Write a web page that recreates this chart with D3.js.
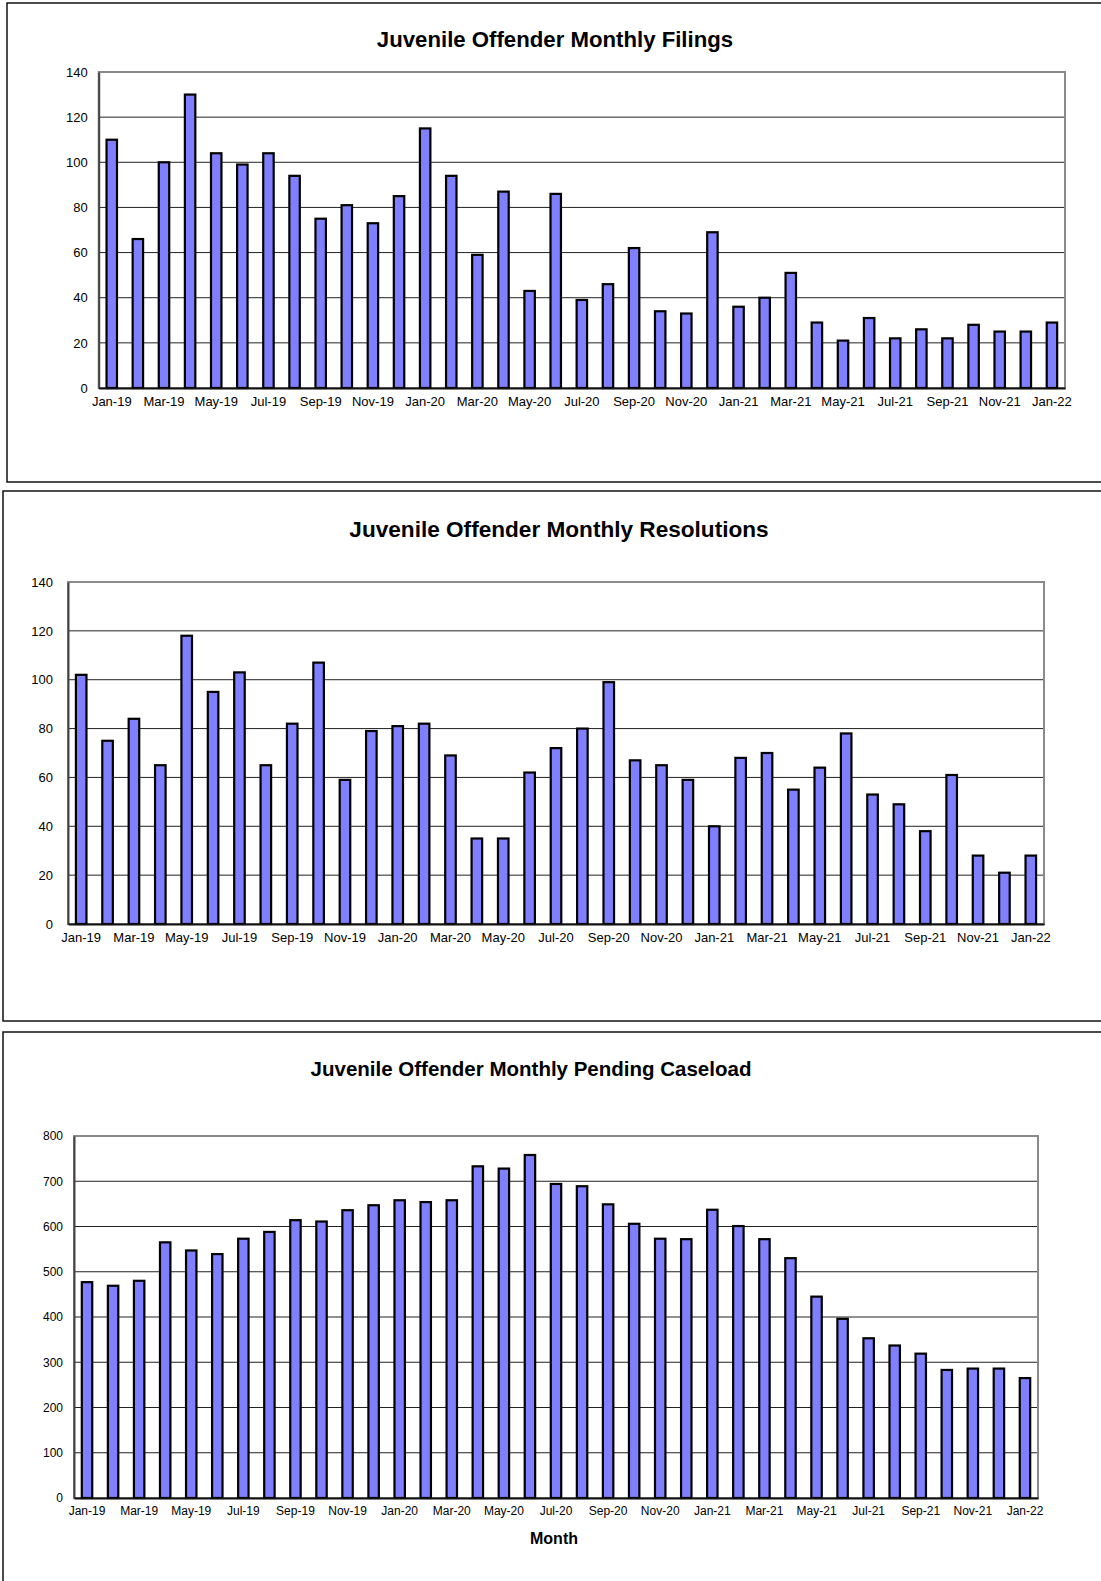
<!DOCTYPE html>
<html>
<head>
<meta charset="utf-8">
<script src="https://cdn.jsdelivr.net/npm/d3@7"></script>
<style>
  body { margin: 0; background: #fff; }
  svg { display: block; font-family: "Liberation Sans", Arial, sans-serif; }
</style>
</head>
<body>
<div id="svg-container"></div>
<script>
var months = ["Jan-19","Feb-19","Mar-19","Apr-19","May-19","Jun-19","Jul-19","Aug-19","Sep-19","Oct-19","Nov-19","Dec-19",
              "Jan-20","Feb-20","Mar-20","Apr-20","May-20","Jun-20","Jul-20","Aug-20","Sep-20","Oct-20","Nov-20","Dec-20",
              "Jan-21","Feb-21","Mar-21","Apr-21","May-21","Jun-21","Jul-21","Aug-21","Sep-21","Oct-21","Nov-21","Dec-21",
              "Jan-22"];

var filings = [110, 66, 100, 130, 104, 99, 104, 94, 75, 81, 73, 85,
               115, 94, 59, 87, 43, 86, 39, 46, 62, 34, 33, 69,
               36, 40, 51, 29, 21, 31, 22, 26, 22, 28, 25, 25,
               29];

var resolutions = [102, 75, 84, 65, 118, 95, 103, 65, 82, 107, 59, 79,
                   81, 82, 69, 35, 35, 62, 72, 80, 99, 67, 65, 59,
                   40, 68, 70, 55, 64, 78, 53, 49, 38, 61, 28, 21,
                   28];

var pending = [477, 469, 480, 565, 547, 539, 573, 588, 614, 611, 636, 647,
               658, 654, 658, 733, 728, 758, 694, 689, 649, 606, 573, 572,
               637, 601, 572, 530, 445, 396, 353, 337, 319, 283, 286, 286,
               265];

// every other month gets a label
var xTicks = months.filter(function(d, i) { return i % 2 === 0; });

var ticksSmall = d3.range(0, 141, 20);
var ticksBig = d3.range(0, 801, 100);

var width = 1101, height = 1581;

var svg = d3.select("#svg-container")
            .append("svg")
            .attr("width", width)
            .attr("height", height);

function drawPanel(p) {
  var g = svg.append("g");

  // outer frame of the panel
  g.append("rect")
   .attr("x", p.box[0]).attr("y", p.box[1])
   .attr("width", p.box[2] - p.box[0]).attr("height", p.box[3] - p.box[1])
   .attr("fill", "none")
   .attr("stroke", "#111")
   .attr("stroke-width", 1.5);

  g.append("text")
   .attr("x", p.titleX).attr("y", p.titleY)
   .attr("text-anchor", "middle")
   .attr("dominant-baseline", "central")
   .attr("font-size", p.titleSize)
   .attr("font-weight", "bold")
   .text(p.title);

  var x = d3.scaleBand()
            .domain(months)
            .range([p.left, p.right])
            .paddingInner(0.6)
            .paddingOuter(0.3);

  var y = d3.scaleLinear()
            .domain([0, p.max])
            .range([p.bottom, p.top]);

  // gridlines
  g.append("g")
   .selectAll("line")
   .data(p.ticks.slice(1, -1))
   .enter()
   .append("line")
   .attr("x1", p.left).attr("x2", p.right)
   .attr("y1", function(d) { return y(d); })
   .attr("y2", function(d) { return y(d); })
   .attr("stroke", "#222")
   .attr("stroke-width", 1);

  // plot frame (grey top and right)
  g.append("rect")
   .attr("x", p.left).attr("y", p.top)
   .attr("width", p.right - p.left).attr("height", p.bottom - p.top)
   .attr("fill", "none")
   .attr("stroke", "#8a8a8a")
   .attr("stroke-width", 2);

  g.append("g")
   .selectAll("rect")
   .data(p.values)
   .enter()
   .append("rect")
   .attr("x", function(d, i) { return x(months[i]); })
   .attr("y", function(d) { return y(d); })
   .attr("width", x.bandwidth())
   .attr("height", function(d) { return p.bottom - y(d); })
   .attr("fill", "#8080ff")
   .attr("stroke", "#000")
   .attr("stroke-width", 2.2);

  var yAxis = g.append("g")
               .attr("transform", "translate(" + p.left + ",0)")
               .call(d3.axisLeft(y).tickValues(p.ticks).tickSize(0).tickPadding(p.yPad));
  yAxis.select(".domain").attr("stroke", "#444").attr("stroke-width", 2);
  yAxis.selectAll("text").attr("font-size", p.fontSize).attr("fill", "#000")
       .attr("font-family", "Liberation Sans, Arial, sans-serif");

  var xAxis = g.append("g")
               .attr("transform", "translate(0," + p.bottom + ")")
               .call(d3.axisBottom(x).tickValues(xTicks).tickSize(0).tickPadding(p.xPad));
  xAxis.select(".domain").attr("stroke", "#111").attr("stroke-width", 2);
  xAxis.selectAll("text").attr("font-size", p.fontSize).attr("fill", "#000")
       .attr("font-family", "Liberation Sans, Arial, sans-serif");

  if (p.xLabel) {
    g.append("text")
     .attr("x", p.xLabelX).attr("y", p.xLabelY)
     .attr("text-anchor", "middle")
     .attr("dominant-baseline", "central")
     .attr("font-size", 16)
     .attr("font-weight", "bold")
     .text(p.xLabel);
  }
}

drawPanel({
  box: [7, 3, 1110, 482],
  title: "Juvenile Offender Monthly Filings", titleX: 555, titleY: 39, titleSize: 22.2,
  left: 98.7, right: 1065, top: 72, bottom: 388,
  max: 140, ticks: ticksSmall, values: filings,
  fontSize: 13, yPad: 11, xPad: 9
});

drawPanel({
  box: [3, 491, 1110, 1021],
  title: "Juvenile Offender Monthly Resolutions", titleX: 559, titleY: 529, titleSize: 22.6,
  left: 68, right: 1044, top: 582, bottom: 924,
  max: 140, ticks: ticksSmall, values: resolutions,
  fontSize: 13, yPad: 15, xPad: 9
});

drawPanel({
  box: [3, 1032, 1110, 1600],
  title: "Juvenile Offender Monthly Pending Caseload", titleX: 531, titleY: 1068, titleSize: 20.5,
  left: 74, right: 1038, top: 1136, bottom: 1498,
  max: 800, ticks: ticksBig, values: pending,
  fontSize: 12, yPad: 11, xPad: 8,
  xLabel: "Month", xLabelX: 554, xLabelY: 1538
});
</script>
</body>
</html>
